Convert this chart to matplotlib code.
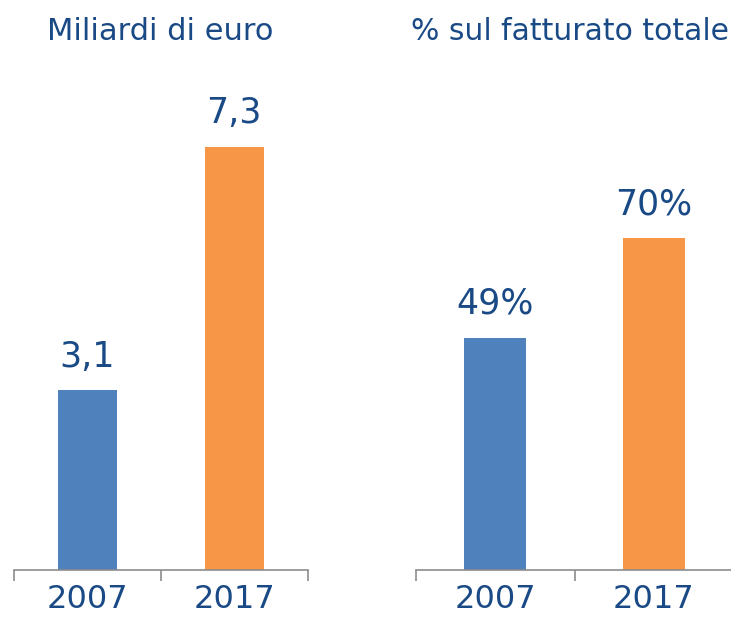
import numpy as np
import matplotlib.pyplot as plt
from matplotlib.ticker import FixedLocator

plt.rcParams['font.family'] = ['DejaVu Sans']

years = ['2007', '2017']
values_eur = [3.1, 7.3]
labels_eur = ['3,1', '7,3']
values_pct = [49, 70]
labels_pct = ['49%', '70%']

bar_colors = ['#4f81bd', '#f79646']
text_c = '#1a4a86'
axis_c = '#8c8c8c'

fig = plt.figure(figsize=(7.31, 6.22), dpi=100)

# left / right panel positions in figure fractions
ax1 = fig.add_axes([0.019, 0.0836, 0.402, 0.82])
ax2 = fig.add_axes([0.569, 0.0836, 0.434, 0.82])

x = np.arange(len(years))

def panel(ax, vals, labs, top, width):
    ax.bar(x, vals, width=width, color=bar_colors)
    ax.set_xlim(-0.5, 1.5)
    ax.set_ylim(0, top)
    for s in ['top', 'left', 'right']:
        ax.spines[s].set_visible(False)
    ax.spines['bottom'].set_color(axis_c)
    ax.spines['bottom'].set_linewidth(1.2)
    ax.set_yticks([])
    ax.set_xticks(x)
    ax.set_xticklabels(years, fontsize=23, color=text_c)
    ax.tick_params(axis='x', which='major', length=0, pad=10)
    ax.xaxis.set_minor_locator(FixedLocator([-0.5, 0.5, 1.5]))
    ax.tick_params(axis='x', which='minor', length=8, width=1.2, color=axis_c)
    for xi, v, t in zip(x, vals, labs):
        ax.annotate(t, (xi, v), xytext=(0, 12), textcoords='offset points',
                    ha='center', va='bottom', fontsize=25, color=text_c)

panel(ax1, values_eur, labels_eur, 8.8, 0.4)
panel(ax2, values_pct, labels_pct, 107.5, 0.39)

fig.text(0.219, 0.95, 'Miliardi di euro', ha='center', va='center',
         fontsize=22, color=text_c)
fig.text(0.78, 0.95, '% sul fatturato totale', ha='center', va='center',
         fontsize=21.5, color=text_c)

fig.savefig('out.png', dpi=100)
